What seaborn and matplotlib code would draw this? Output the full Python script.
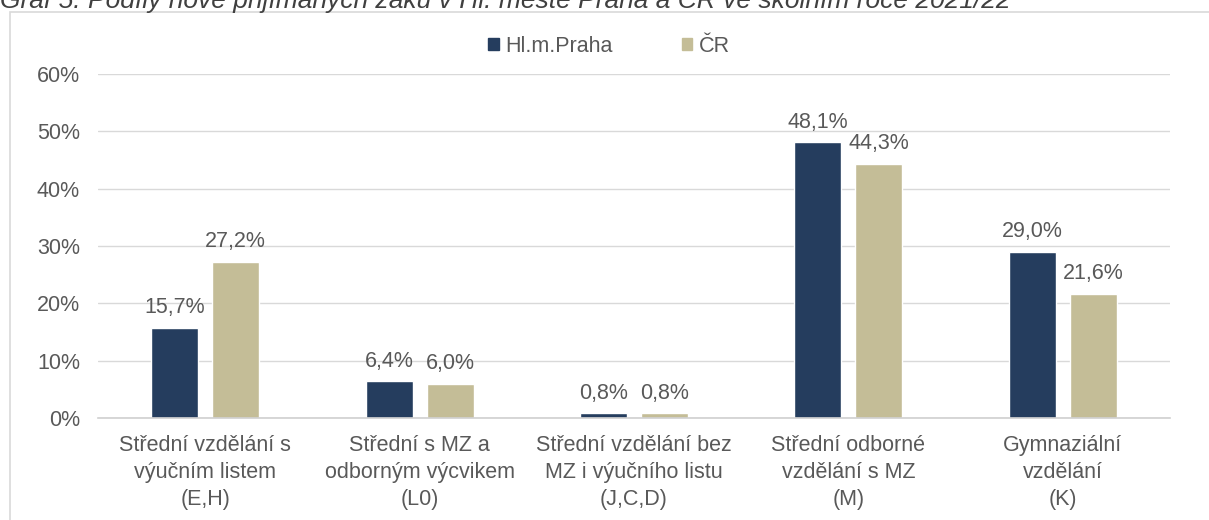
import numpy as np
import pandas as pd
import matplotlib.pyplot as plt
import seaborn as sns
from matplotlib.patches import Rectangle

categories = [
    "Střední vzdělání s\nvýučním listem\n(E,H)",
    "Střední s MZ a\nodborným výcvikem\n(L0)",
    "Střední vzdělání bez\nMZ i výučního listu\n(J,C,D)",
    "Střední odborné\nvzdělání s MZ\n(M)",
    "Gymnaziální\nvzdělání\n(K)",
]
praha = [15.7, 6.4, 0.8, 48.1, 29.0]
cr = [27.2, 6.0, 0.8, 44.3, 21.6]
series = ["Hl.m.Praha", "ČR"]
colors = ["#253D5E", "#C4BD97"]

df = pd.DataFrame({
    "cat": categories * 2,
    "val": praha + cr,
    "series": [series[0]] * 5 + [series[1]] * 5,
})

sns.set_theme(style="white")
plt.rcParams['font.family'] = ['Liberation Sans', 'DejaVu Sans']
text_color = "#595959"
fs = 15.5

W, H = 1209, 520
fig = plt.figure(figsize=(W / 100, H / 100), dpi=100)

# chart frame
fig.patches.append(Rectangle((10 / W, -0.05), 1.05, 1 - 12 / H + 0.05,
                             transform=fig.transFigure, fill=False,
                             edgecolor="#D9D9D9", linewidth=1.2))

fig.text(0.0, 1 - 8 / H, "Graf 5: Podíly nově přijímaných žáků v Hl. městě Praha a ČR ve školním roce 2021/22",
         fontsize=19, style="italic", color="#404040", va="baseline", ha="left")

ax = fig.add_axes([98 / W, (H - 418) / H, 1072 / W, (418 - 74) / H])
sns.barplot(data=df, x="cat", y="val", hue="series", palette=colors,
            width=0.57, gap=0.23, ax=ax, legend=False, saturation=1)

ax.set_ylim(0, 60)
ax.set_xlim(-0.5, 4.5)
ax.set_yticks(np.arange(0, 61, 10))
ax.set_yticklabels([f"{v}%" for v in range(0, 61, 10)], color=text_color, fontsize=fs)
ax.tick_params(axis="y", length=0, pad=13)
ax.tick_params(axis="x", length=0, pad=12)
ax.set_xticks(range(5))
ax.set_xticklabels(categories, color=text_color, fontsize=fs, linespacing=1.38)
ax.set_xlabel("")
ax.set_ylabel("")
ax.grid(axis="y", color="#D9D9D9", linewidth=1)
ax.set_axisbelow(True)
for s in ["top", "right", "left"]:
    ax.spines[s].set_visible(False)
ax.spines["bottom"].set_color("#D0D0D0")
ax.spines["bottom"].set_linewidth(1.2)

for cont in ax.containers:
    ax.bar_label(cont, labels=[f"{v:.1f}%".replace(".", ",") for v in cont.datavalues],
                 padding=7, color=text_color, fontsize=fs)

handles = [Rectangle((0, 0), 1, 1, color=c) for c in colors]
fig.legend(handles, series, loc="center", bbox_to_anchor=(609 / W, 1 - 46 / H),
           ncol=2, frameon=False, fontsize=fs, handlelength=0.5, handleheight=0.5,
           handletextpad=0.3, columnspacing=3.2, labelcolor=text_color)

fig.savefig("out.png", dpi=100)
